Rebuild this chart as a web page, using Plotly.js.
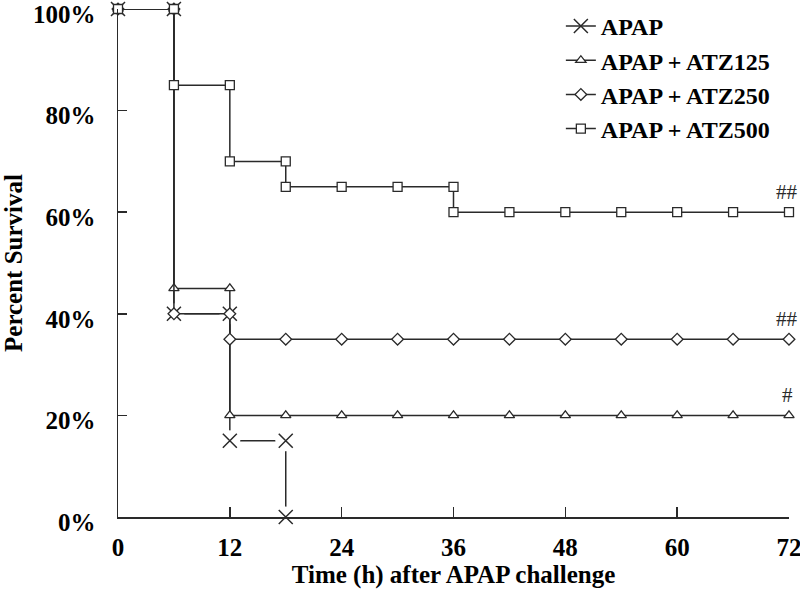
<!DOCTYPE html>
<html>
<head>
<meta charset="utf-8">
<script src="https://cdn.plot.ly/plotly-3.0.1.min.js"></script>
<style>
  html, body { margin: 0; padding: 0; background: #fff; }
  #chart { width: 800px; height: 598px; }
</style>
</head>
<body>
<div id="chart"></div>
<script>
// survival (%) at each observation time (h); a repeated time is a step down
const apapTime = [0, 6, 6, 12, 12, 18, 18];
const apapSurv = [100, 100, 40, 40, 15, 15, 0];

const atz125Time = [0, 6, 6, 12, 12, 18, 24, 30, 36, 42, 48, 54, 60, 66, 72];
const atz125Surv = [100, 100, 45, 45, 20, 20, 20, 20, 20, 20, 20, 20, 20, 20, 20];

const atz250Time = [0, 6, 6, 12, 12, 18, 24, 30, 36, 42, 48, 54, 60, 66, 72];
const atz250Surv = [100, 100, 40, 40, 35, 35, 35, 35, 35, 35, 35, 35, 35, 35, 35];

const atz500Time = [0, 6, 6, 12, 12, 18, 18, 24, 30, 36, 36, 42, 48, 54, 60, 66, 72];
const atz500Surv = [100, 100, 85, 85, 70, 70, 65, 65, 65, 65, 60, 60, 60, 60, 60, 60, 60];

const seriesNames = ['APAP', 'APAP + ATZ125', 'APAP + ATZ250', 'APAP + ATZ500'];
const xTicks = [0, 12, 24, 36, 48, 60, 72];
const yTicks = [0, 20, 40, 60, 80, 100];
const yTickText = yTicks.map(v => v + '%');

// significance marks at the end of each treated curve
const sigLabels = ['#', '##', '##'];
const sigTime = [72, 72, 72];
const sigSurv = [20, 35, 60];

const ink = '#2a2a2a';
const serif = 'Liberation Serif, Times New Roman, serif';
const crossMarker = { symbol: 'x-thin-open', size: 14, color: ink, line: { color: ink, width: 1.5 } };

function stepTrace(name, x, y, symbol, rank) {
    return {
        x: x, y: y, name: name, type: 'scatter', mode: 'lines+markers',
        line: { color: ink, width: 1.5 },
        marker: { symbol: symbol, size: 9, color: '#ffffff', line: { color: ink, width: 1.3 } },
        cliponaxis: false, legendrank: rank
    };
}

const data = [
    // APAP: line, then white discs to open gaps, then the crosses
    { x: apapTime, y: apapSurv, type: 'scatter', mode: 'lines', showlegend: false,
      line: { color: ink, width: 1.5 }, cliponaxis: false, hoverinfo: 'skip' },
    { x: apapTime, y: apapSurv, type: 'scatter', mode: 'markers', showlegend: false,
      marker: { symbol: 'circle', size: 21, color: '#ffffff' }, cliponaxis: false, hoverinfo: 'skip' },
    { x: apapTime, y: apapSurv, type: 'scatter', mode: 'markers', showlegend: false,
      marker: crossMarker, cliponaxis: false },
    // legend entry for APAP
    { x: [null], y: [null], name: seriesNames[0], type: 'scatter', mode: 'lines+markers',
      line: { color: ink, width: 1.5 }, marker: crossMarker, legendrank: 1 },
    stepTrace(seriesNames[1], atz125Time, atz125Surv, 'triangle-up', 2),
    stepTrace(seriesNames[2], atz250Time, atz250Surv, 'diamond', 3),
    stepTrace(seriesNames[3], atz500Time, atz500Surv, 'square', 4)
];

const annotations = sigLabels.map((t, i) => ({
    x: sigTime[i], y: sigSurv[i], xref: 'x', yref: 'y', text: t, showarrow: false,
    yshift: 20, xshift: -2, font: { family: serif, size: 21, color: ink }
}));

const layout = {
    width: 800, height: 598,
    margin: { l: 118, r: 11, t: 9, b: 81, pad: 0, autoexpand: false },
    paper_bgcolor: '#ffffff', plot_bgcolor: '#ffffff',
    font: { family: serif, color: '#000' },
    showlegend: true,
    legend: {
        x: 0.66, xanchor: 'left', y: 1.01, yanchor: 'top',
        bgcolor: 'rgba(0,0,0,0)', borderwidth: 0,
        font: { family: serif, size: 24, weight: 'bold', color: '#000' }
    },
    xaxis: {
        range: [0, 72], tickmode: 'array', tickvals: xTicks, showgrid: false, zeroline: false,
        showline: true, linecolor: ink, linewidth: 1.5, automargin: false,
        ticks: 'inside', ticklen: 10, tickwidth: 1.5, tickcolor: ink,
        ticklabelstandoff: 7, ticklabeloverflow: 'allow',
        tickfont: { family: serif, size: 25, weight: 'bold', color: '#000' },
        title: { text: 'Time (h) after APAP challenge', standoff: 4,
                 font: { family: serif, size: 25, weight: 'bold', color: '#000' } }
    },
    yaxis: {
        range: [0, 100], tickmode: 'array', tickvals: yTicks, ticktext: yTickText,
        showgrid: false, zeroline: false,
        showline: true, linecolor: ink, linewidth: 1.5, automargin: false,
        ticks: 'inside', ticklen: 9, tickwidth: 1.5, tickcolor: ink,
        ticklabelstandoff: 16, ticklabeloverflow: 'allow', ticklabelshift: 5,
        tickfont: { family: serif, size: 25, weight: 'bold', color: '#000' },
        title: { text: 'Percent Survival', standoff: 4,
                 font: { family: serif, size: 25, weight: 'bold', color: '#000' } }
    },
    annotations: annotations
};

Plotly.newPlot('chart', data, layout, { displayModeBar: false, staticPlot: true });
</script>
</body>
</html>
